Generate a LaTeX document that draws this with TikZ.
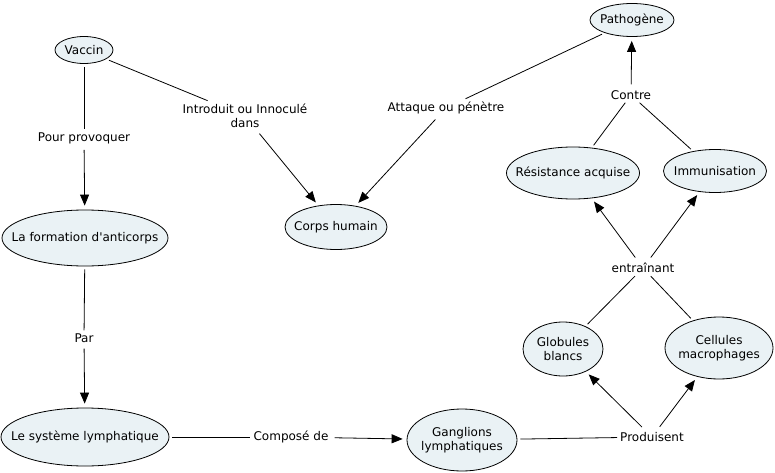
\documentclass[tikz,border=0pt]{standalone}
\usepackage{fontspec}
\setmainfont{DejaVu Sans}
\usetikzlibrary{arrows.meta, shapes.geometric}
\definecolor{conceptfill}{RGB}{234,242,245}

\begin{document}
\begin{tikzpicture}[x=1pt, y=-1pt,
    font=\fontsize{12}{14.5}\selectfont,
    concept/.style={ellipse, draw, line width=0.8pt, fill=conceptfill, inner sep=0pt},
    linkword/.style={inner sep=3pt, align=center},
    link/.style={draw, line width=0.8pt, shorten <=3pt},
    arrow/.style={link, -{Triangle[length=11pt, width=9pt]}, shorten >=4pt}]
    \useasboundingbox (0,0) rectangle (775,473);
    % concepts
    \node[concept, minimum width=58, minimum height=27, label={center:Vaccin}] (vaccin) at (84,50) {};
    \node[concept, minimum width=84, minimum height=33, label={center:Pathogène}] (pathogene) at (632,20) {};
    \node[concept, minimum width=166, minimum height=56, label={center:La formation d\textquotesingle anticorps}] (formation) at (85,238) {};
    \node[concept, minimum width=102, minimum height=45, label={center:Corps humain}] (corps) at (336,227) {};
    \node[concept, minimum width=133, minimum height=52, label={center:Résistance acquise}] (resistance) at (573,173) {};
    \node[concept, minimum width=103, minimum height=43, label={center:Immunisation}] (immunisation) at (715,171) {};
    \node[concept, minimum width=80, minimum height=54, label={[align=center]center:Globules\\blancs}] (globules) at (563,349) {};
    \node[concept, minimum width=108, minimum height=62, label={[align=center]center:Cellules\\macrophages}] (cellules) at (719,348) {};
    \node[concept, minimum width=168, minimum height=58, label={center:Le système lymphatique}] (systeme) at (85,437) {};
    \node[concept, minimum width=110, minimum height=62, label={[align=center]center:Ganglions\\lymphatiques}] (ganglions) at (462,440) {};
    % linking words
    \node[linkword] (provoquer) at (84,138) {Pour provoquer};
    \node[linkword] (introduit) at (245,116) {Introduit ou Innoculé\\dans};
    \node[linkword] (attaque) at (446,108) {Attaque ou pénètre};
    \node[linkword] (contre) at (631,95) {Contre};
    \node[linkword] (entrainant) at (643,268) {entraînant};
    \node[linkword] (par) at (84,338) {Par};
    \node[linkword] (compose) at (291,437) {Composé de};
    \node[linkword] (produisent) at (652,437) {Produisent};
    % connectors
    \draw[link] (vaccin) -- (provoquer);
    \draw[arrow] (provoquer) -- (formation);
    \draw[link] (vaccin) -- (introduit);
    \draw[arrow] (introduit) -- (corps);
    \draw[link] (pathogene) -- (attaque);
    \draw[arrow] (attaque) -- (corps);
    \draw[link] (resistance) -- (contre);
    \draw[link] (immunisation) -- (contre);
    \draw[arrow] (contre) -- (pathogene);
    \draw[link] (globules) -- (entrainant);
    \draw[link] (cellules) -- (entrainant);
    \draw[arrow] (entrainant) -- (resistance);
    \draw[arrow] (entrainant) -- (immunisation);
    \draw[link] (formation) -- (par);
    \draw[arrow] (par) -- (systeme);
    \draw[link] (systeme) -- (compose);
    \draw[arrow] (compose) -- (ganglions);
    \draw[link] (ganglions) -- (produisent);
    \draw[arrow] (produisent) -- (globules);
    \draw[arrow] (produisent) -- (cellules);
\end{tikzpicture}
\end{document}
